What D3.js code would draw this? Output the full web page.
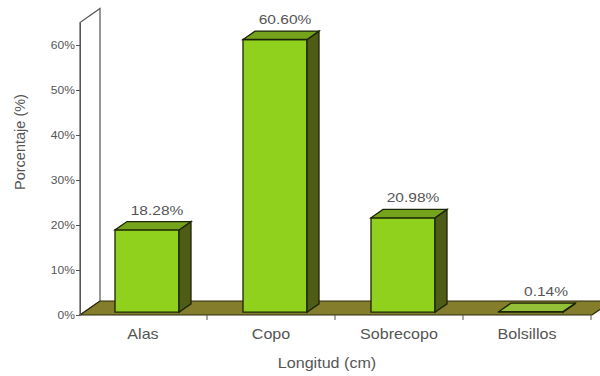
<!DOCTYPE html>
<html>
<head>
<meta charset="utf-8">
<script src="https://cdn.jsdelivr.net/npm/d3@7"></script>
<style>
  html, body { margin: 0; padding: 0; background: #fff; }
  svg { display: block; }
  text { font-family: "Liberation Sans", Arial, Helvetica, sans-serif; fill: #555; }
</style>
</head>
<body>
<svg id="chart" width="600" height="376"></svg>
<script>
// Distribution by net section
const categories = ["Alas", "Copo", "Sobrecopo", "Bolsillos"];
const values = [18.28, 60.60, 20.98, 0.14];
const valueLabels = ["18.28%", "60.60%", "20.98%", "0.14%"];
const yTicks = [0, 10, 20, 30, 40, 50, 60];
const yTickLabels = ["0%", "10%", "20%", "30%", "40%", "50%", "60%"];
const yTitle = "Porcentaje (%)";
const xTitle = "Longitud (cm)";

const svg = d3.select("#chart");
const SX = 1.15;               // horizontal text stretch
const DX = 20, DY = -14;       // depth of the 3D floor/wall
const F0 = 0.2, F1 = 0.8;      // bar depth span (fraction of floor depth)

const x = d3.scaleBand().domain(categories).range([79, 591])
  .paddingInner(0.5).paddingOuter(0.25);
const y = d3.scaleLinear().domain([0, 65]).range([315, 22.5]);

const pts = p => p.map(d => d.join(",")).join(" ");

// side wall
const y0 = y(0), yTop = y(65);
svg.append("polygon")
  .attr("points", pts([[80, y0], [80, yTop], [80 + DX, yTop + DY], [80 + DX, y0 + DY]]))
  .attr("fill", "#fff").attr("stroke", "#555").attr("stroke-width", 1.2);

// floor
svg.append("polygon")
  .attr("points", pts([[80, y0], [592, y0], [592 + DX, y0 + DY], [80 + DX, y0 + DY]]))
  .attr("fill", "#847d2c").attr("stroke", "#2a2a10").attr("stroke-width", 1.2);

// category separator ticks on the floor edge
const bounds = categories.map(c => x(c) - x.step() * x.paddingInner() / 2 + x.step());
svg.append("g").selectAll("line").data(bounds).join("line")
  .attr("x1", d => d).attr("x2", d => d)
  .attr("y1", y0).attr("y2", y0 + 5)
  .attr("stroke", "#555").attr("stroke-width", 1);

// y axis
const yAxis = svg.append("g").attr("transform", "translate(80,0)")
  .call(d3.axisLeft(y).tickValues(yTicks).tickFormat((d, i) => yTickLabels[i])
    .tickSize(4).tickSizeOuter(0));
yAxis.select(".domain").attr("stroke", "#555");
yAxis.selectAll(".tick line").attr("stroke", "#555");
yAxis.selectAll(".tick text")
  .attr("x", -5 / SX).attr("dy", "0.35em")
  .attr("transform", `scale(${SX},1)`)
  .style("font-size", "10.5px").style("fill", "#555")
  .style("font-family", "'Liberation Sans', Arial, sans-serif");

// bars
const fx = F0 * DX, fy = F0 * DY;
const bdx = (F1 - F0) * DX, bdy = (F1 - F0) * DY;
const bw = x.bandwidth();
const bars = svg.append("g").selectAll("g").data(categories).join("g");

bars.each(function (c, i) {
  const g = d3.select(this);
  const x0 = x(c) + fx, x1 = x0 + bw;
  const yb = y(0) + fy, yt = y(values[i]) + fy;
  g.append("polygon")
    .attr("points", pts([[x0, yb], [x1, yb], [x1, yt], [x0, yt]]))
    .attr("fill", "#8fd11d").attr("stroke", "#1c2408").attr("stroke-width", 1.3);
  g.append("polygon")
    .attr("points", pts([[x1, yb], [x1, yt], [x1 + bdx, yt + bdy], [x1 + bdx, yb + bdy]]))
    .attr("fill", "#4d5d15").attr("stroke", "#1c2408").attr("stroke-width", 1.3);
  g.append("polygon")
    .attr("points", pts([[x0, yt], [x1, yt], [x1 + bdx, yt + bdy], [x0 + bdx, yt + bdy]]))
    .attr("fill", values[i] < 1 ? "#93c037" : "#75a31c")
    .attr("stroke", "#1c2408").attr("stroke-width", 1.3);

  // value label
  const lx = x0 + bw / 2 + bdx / 2 + (values[i] < 1 ? 9 : 4);
  const ly = yt + bdy - 7;
  g.append("text")
    .attr("transform", `translate(${lx},${ly}) scale(${SX},1)`)
    .attr("text-anchor", "middle")
    .style("font-size", "13.5px")
    .text(valueLabels[i]);
});

// category labels
svg.append("g").selectAll("text").data(categories).join("text")
  .attr("transform", c => `translate(${x(c) + bw / 2},339) scale(${SX},1)`)
  .attr("text-anchor", "middle")
  .style("font-size", "14px")
  .text(c => c);

// axis titles
svg.append("text")
  .attr("transform", `translate(327,368) scale(${SX},1)`)
  .attr("text-anchor", "middle")
  .style("font-size", "14px")
  .text(xTitle);

svg.append("text")
  .attr("transform", "translate(25,142) rotate(-90)")
  .attr("text-anchor", "middle")
  .style("font-size", "14.5px")
  .text(yTitle);
</script>
</body>
</html>
